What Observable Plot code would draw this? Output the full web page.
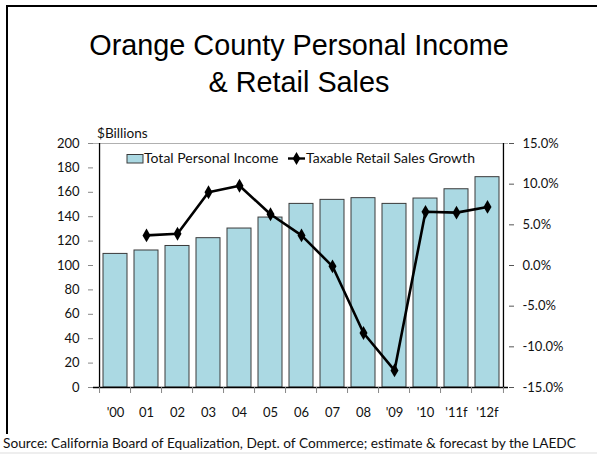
<!DOCTYPE html>
<html>
<head>
<meta charset="utf-8">
<script src="https://cdn.jsdelivr.net/npm/d3@7"></script>
<script src="https://cdn.jsdelivr.net/npm/@observablehq/plot@0.6"></script>
<style>
  html, body { margin: 0; padding: 0; background: #fff; }
  #wrap { position: relative; width: 597px; height: 455px; overflow: hidden; }
  #wrap > svg { position: absolute; left: 0; top: 0; }
</style>
</head>
<body>
<div id="wrap"></div>
<script>
const years = ["'00","01","02","03","04","05","06","07","08","'09","'10","'11f","'12f"];
const income = [109.5,112.3,116.0,122.4,130.3,139.3,150.5,153.8,155.2,150.5,154.9,162.5,172.4];
const growth = [null,3.7,3.9,9.0,9.8,6.3,3.7,-0.1,-8.3,-12.9,6.6,6.5,7.2];
const leftTicks = [0,20,40,60,80,100,120,140,160,180,200];
const rightTicks = [-15,-10,-5,0,5,10,15];
const titleLines = ["Orange County Personal Income", "& Retail Sales"];
const unitLabel = "$Billions";
const seriesNames = ["Total Personal Income", "Taxable Retail Sales Growth"];
const sourceText = "Source: California Board of Equalization, Dept. of Commerce; estimate & forecast by the LAEDC";

const W = 597, H = 455;
const mT = 143, mB = 68, mL = 93, mR = 89;
const plotW = W - mL - mR, plotH = H - mT - mB;
const step = plotW / years.length;

// map right-axis percent onto left-axis scale
const pctMin = -15, pctMax = 15, yMax = 200;
const pctToY = p => (p - pctMin) * yMax / (pctMax - pctMin);

const barData = years.map((y, i) => ({year: y, value: income[i]}));
const lineData = years.map((y, i) => ({year: y, pct: growth[i]})).filter(d => d.pct != null);

const barFill = "#abd9e3";
const font = "Lato, 'Open Sans', sans-serif";

const chart = Plot.plot({
  width: W, height: H,
  marginTop: mT, marginBottom: mB, marginLeft: mL, marginRight: mR,
  style: {fontFamily: font, fontSize: "13px", background: "transparent", color: "#111"},
  x: {type: "band", domain: years, paddingInner: 0.235, paddingOuter: 0.1175, axis: null, label: null},
  y: {domain: [0, yMax], axis: null, label: null},
  marks: [
    Plot.ruleY([yMax], {stroke: "#b0b0b0", strokeWidth: 1}),
    Plot.barY(barData, {x: "year", y: "value", fill: barFill, stroke: "#3a3a3a", strokeWidth: 1}),
    // axis lines
    Plot.ruleY([0], {stroke: "#000", strokeWidth: 1.3}),
    Plot.ruleX([years[0]], {dx: -step / 2, stroke: "#000", strokeWidth: 1.3}),
    Plot.ruleX([years[years.length - 1]], {dx: step / 2, stroke: "#000", strokeWidth: 1.3}),
    // category boundary ticks
    Plot.ruleX(years, {dx: -step / 2, insetTop: plotH, insetBottom: -6, stroke: "#888"}),
    Plot.ruleX([years[years.length - 1]], {dx: step / 2, insetTop: plotH, insetBottom: -6, stroke: "#888"}),
    Plot.axisX({tickSize: 0, tickPadding: 20, fill: "#111", fontSize: 13, label: null}),
    Plot.axisY({anchor: "left", ticks: leftTicks, tickSize: 5, tickPadding: 9, stroke: "#888", fill: "#111", fontSize: 13, label: null}),
    Plot.axisY({anchor: "right", ticks: rightTicks.map(pctToY), tickSize: 5, tickPadding: 9, label: null,
      tickFormat: v => (v * (pctMax - pctMin) / yMax + pctMin).toFixed(1) + "%", stroke: "#555", fill: "#111", fontSize: 13}),
    Plot.line(lineData, {x: "year", y: d => pctToY(d.pct), stroke: "#000", strokeWidth: 2.6, strokeLinejoin: "round"}),
    Plot.dot(lineData, {x: "year", y: d => pctToY(d.pct), symbol: "diamond", fill: "#000", r: 4.2})
  ]
});

const wrap = document.getElementById("wrap");
wrap.appendChild(chart);

// decoration overlay: frame, title, legend, unit label, source
const ov = d3.select(wrap).append("svg").attr("width", W).attr("height", H)
  .style("position", "absolute").style("left", 0).style("top", 0);

ov.append("line").attr("x1", 6).attr("x2", W).attr("y1", 6).attr("y2", 6).attr("stroke", "#000").attr("stroke-width", 2);
ov.append("line").attr("x1", 7).attr("x2", 7).attr("y1", 5).attr("y2", 434).attr("stroke", "#000").attr("stroke-width", 2);
ov.append("line").attr("x1", 0).attr("x2", W).attr("y1", 453).attr("y2", 453).attr("stroke", "#ddd").attr("stroke-width", 1);

ov.selectAll("text.title").data(titleLines).join("text")
  .attr("x", 299).attr("y", (d, i) => 55 + i * 36.7)
  .attr("text-anchor", "middle")
  .style("font-family", "'Liberation Sans', Arial, sans-serif").style("font-size", "28.8px").attr("fill", "#000")
  .text(d => d);

ov.append("text").attr("x", 97).attr("y", 138).style("font-family", font).style("font-size", "13.6px").attr("fill", "#111").text(unitLabel);

// legend
ov.append("rect").attr("x", 127).attr("y", 154.5).attr("width", 16).attr("height", 8.5)
  .attr("fill", barFill).attr("stroke", "#3a3a3a").attr("stroke-width", 1);
ov.append("text").attr("x", 144).attr("y", 163).style("font-family", font).style("font-size", "14px").attr("fill", "#111").text(seriesNames[0]);
ov.append("line").attr("x1", 288).attr("x2", 305).attr("y1", 158.5).attr("y2", 158.5).attr("stroke", "#000").attr("stroke-width", 2.4);
ov.append("path").attr("d", d3.symbol(d3.symbolDiamond, 50)()).attr("transform", "translate(296.5,158.5)").attr("fill", "#000");
ov.append("text").attr("x", 306).attr("y", 163).style("font-family", font).style("font-size", "14px").attr("fill", "#111").text(seriesNames[1]);

ov.append("text").attr("x", 3).attr("y", 448).style("font-family", font).style("font-size", "13.7px").attr("fill", "#111").text(sourceText);
</script>
</body>
</html>
